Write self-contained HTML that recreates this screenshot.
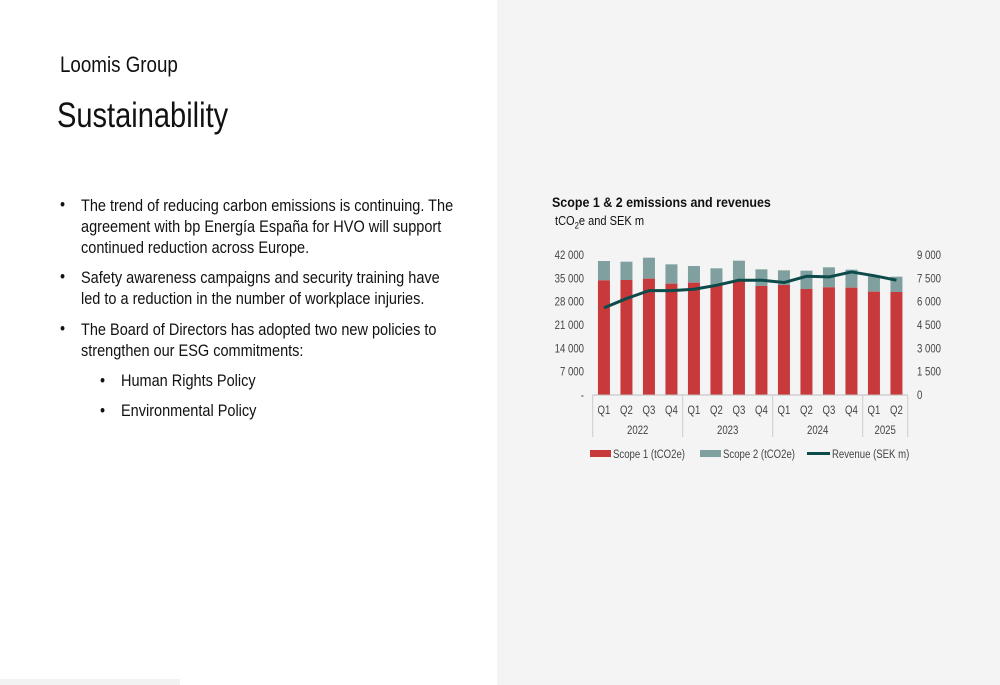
<!DOCTYPE html>
<html><head><meta charset="utf-8"><style>
body{margin:0;width:1000px;height:685px;position:relative;overflow:hidden;background:#fff;font-family:"Liberation Sans",sans-serif;color:#111}
.t{position:absolute;white-space:nowrap;transform-origin:0 0;transform:scaleX(0.853)}
#right{position:absolute;left:497px;top:0;width:503px;height:685px;background:#f4f4f4}
.b{font-size:17px}
</style></head><body>
<div id="right"></div>
<div style="position:absolute;left:0;top:679px;width:180px;height:6px;background:#f2f2f2"></div>
<div class="t" style="left:60px;top:52px;font-size:22px">Loomis Group</div>
<div class="t" style="left:57px;top:96px;font-size:35px;transform:scaleX(0.83)">Sustainability</div>
<div>
<div class="t b" style="left:60px;top:195px">•</div>
<div class="t b" style="left:81px;top:195px;line-height:21px">The trend of reducing carbon emissions is continuing. The<br>agreement with bp Energía España for HVO will support<br>continued reduction across Europe.</div>
<div class="t b" style="left:60px;top:267px">•</div>
<div class="t b" style="left:81px;top:267px;line-height:21px">Safety awareness campaigns and security training have<br>led to a reduction in the number of workplace injuries.</div>
<div class="t b" style="left:60px;top:319px">•</div>
<div class="t b" style="left:81px;top:319px;line-height:21px">The Board of Directors has adopted two new policies to<br>strengthen our ESG commitments:</div>
<div class="t b" style="left:100px;top:371px">•</div>
<div class="t b" style="left:121px;top:371px">Human Rights Policy</div>
<div class="t b" style="left:100px;top:401px">•</div>
<div class="t b" style="left:121px;top:401px">Environmental Policy</div>
</div>
<div class="t" style="left:552px;top:194px;font-size:14px;font-weight:bold;transform:scaleX(0.89)">Scope 1 &amp; 2 emissions and revenues</div>
<div class="t" style="left:555px;top:213px;font-size:13px;transform:scaleX(0.85)">tCO<sub style="font-size:9px">2</sub>e and SEK m</div>
<svg id="chart" width="1000" height="685" style="position:absolute;left:0;top:0"></svg>
<script>
const quarters=["Q1","Q2","Q3","Q4","Q1","Q2","Q3","Q4","Q1","Q2","Q3","Q4","Q1","Q2"];
const years=["2022","2023","2024","2025"];
const yearCounts=[4,4,4,2];
const scope1=[34400,34500,34900,33400,33700,33000,34400,32700,33000,31800,32300,32200,31000,30900];
const total=[40200,40000,41200,39200,38700,38000,40300,37700,37400,37300,38300,37600,35900,35500];
const revenue=[5600,6200,6710,6710,6800,7050,7380,7380,7230,7630,7590,7910,7670,7380];
const leftTicks=[0,7000,14000,21000,28000,35000,42000];
const leftLabels=["-","7 000","14 000","21 000","28 000","35 000","42 000"];
const rightTicks=[0,1500,3000,4500,6000,7500,9000];
const rightLabels=["0","1 500","3 000","4 500","6 000","7 500","9 000"];
const NS="http://www.w3.org/2000/svg",svg=document.getElementById('chart');
const x0=592.7,slot=22.5,y0=395,h=140;
const yL=v=>y0-v/42000*h, yR=v=>y0-v/9000*h, xc=i=>x0+slot*(i+0.5);
function el(t,a,txt){const e=document.createElementNS(NS,t);for(const k in a)e.setAttribute(k,a[k]);if(txt!=null)e.textContent=txt;svg.appendChild(e);return e;}
const F='font-family:"Liberation Sans",sans-serif;font-size:12px;fill:#444';
function tx(x,y,s,anchor){const e=el('text',{x:x,y:y,'text-anchor':anchor||'start',style:F,transform:'translate('+x+',0) scale(0.8,1) translate('+(-x)+',0)'},s);return e;}
leftTicks.forEach((v,i)=>{const e=tx(584,yL(v)+4,leftLabels[i],'end');

});
rightTicks.forEach((v,i)=>{const e=tx(917,yR(v)+4,rightLabels[i]);

});
scope1.forEach((v,i)=>{
const b2=el('rect',{x:xc(i)-6,y:yL(total[i]),width:12,height:yL(v)-yL(total[i]),fill:'#7fa09f'});


const b1=el('rect',{x:xc(i)-6,y:yL(v),width:12,height:y0-yL(v),fill:'#c8393c'});


const q=tx(xc(i),414,quarters[i],'middle');


});
const ax=el('line',{x1:x0,y1:y0,x2:x0+slot*14,y2:y0,stroke:'#bbb'});


let s=0;
const seps=[s];
yearCounts.forEach((c,k)=>{const mid=x0+slot*(s+c/2);
const t=tx(mid,434,years[k],'middle');


s+=c;seps.push(s);});
seps.forEach(i=>{const l=el('line',{x1:x0+slot*i,y1:y0,x2:x0+slot*i,y2:437,stroke:'#ccc'});

});
const ln=el('polyline',{points:revenue.map((v,i)=>xc(i)+','+yR(v)).join(' '),fill:'none',stroke:'#0d4a4a','stroke-width':3,'stroke-linejoin':'round'});


const legend=[['rect',590,'#c8393c','Scope 1 (tCO2e)'],['rect',700,'#7fa09f','Scope 2 (tCO2e)'],['line',807,'#0d4a4a','Revenue (SEK m)']];
legend.forEach(([k,x,c,t])=>{
const m=k==='rect'?el('rect',{x:x,y:450,width:21,height:7,fill:c}):el('line',{x1:x,y1:453.5,x2:x+23,y2:453.5,stroke:c,'stroke-width':3});


const lt=tx(x+(k==='rect'?23:25),458,t);


});
</script>
</body></html>
